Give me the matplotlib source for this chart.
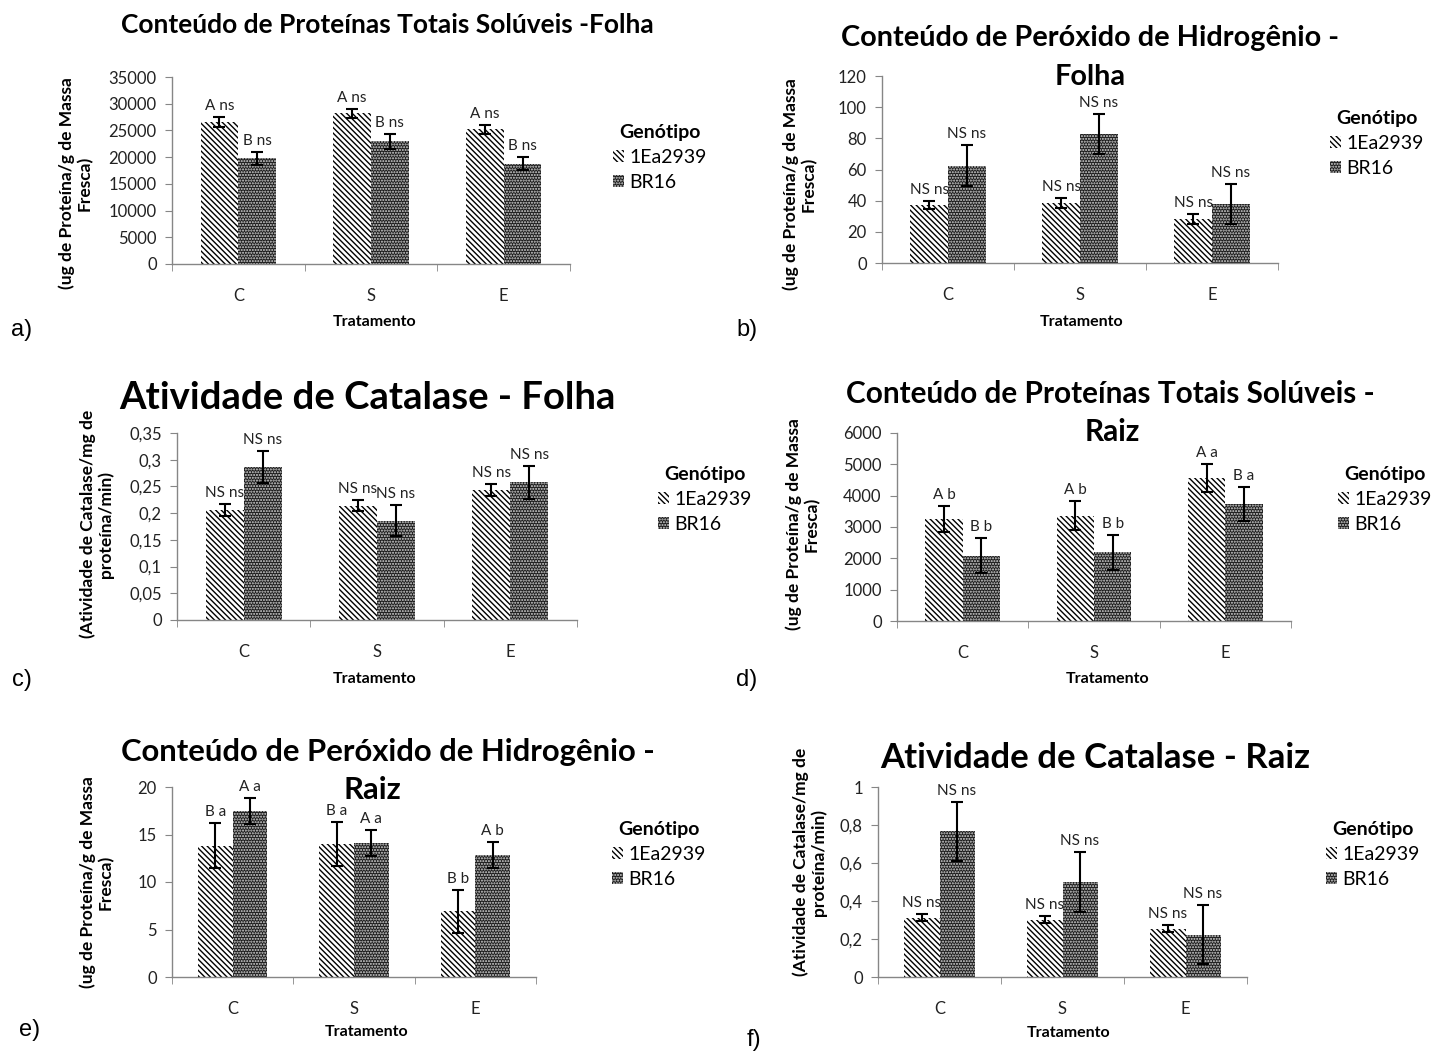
import matplotlib
matplotlib.use('Agg')
import matplotlib.pyplot as plt
from matplotlib.patches import Patch
import numpy as np

plt.rcParams['font.family'] = ['Lato', 'DejaVu Sans']
plt.rcParams['hatch.linewidth'] = 1.0

W, H = 1432, 1055

tratamentos = ['C', 'S', 'E']
genotipos = ['1Ea2939', 'BR16']

# a) proteínas totais solúveis - folha
prot_folha_1ea = [26500, 28200, 25200]
prot_folha_1ea_err = [950, 800, 850]
prot_folha_br16 = [19800, 23000, 18800]
prot_folha_br16_err = [1250, 1400, 1250]
prot_folha_letras_1ea = ['A ns', 'A ns', 'A ns']
prot_folha_letras_br16 = ['B ns', 'B ns', 'B ns']

# b) peróxido de hidrogênio - folha
h2o2_folha_1ea = [37.0, 38.4, 28.3]
h2o2_folha_1ea_err = [2.6, 3.4, 3.0]
h2o2_folha_br16 = [62.5, 82.7, 37.9]
h2o2_folha_br16_err = [13.0, 13.0, 12.8]
h2o2_folha_letras_1ea = ['NS ns', 'NS ns', 'NS ns']
h2o2_folha_letras_br16 = ['NS ns', 'NS ns', 'NS ns']

# c) catalase - folha
cat_folha_1ea = [0.206, 0.214, 0.244]
cat_folha_1ea_err = [0.012, 0.010, 0.011]
cat_folha_br16 = [0.286, 0.186, 0.2575]
cat_folha_br16_err = [0.030, 0.029, 0.031]
cat_folha_letras_1ea = ['NS ns', 'NS ns', 'NS ns']
cat_folha_letras_br16 = ['NS ns', 'NS ns', 'NS ns']

# d) proteínas totais solúveis - raiz
prot_raiz_1ea = [3250, 3360, 4570]
prot_raiz_1ea_err = [410, 470, 440]
prot_raiz_br16 = [2090, 2200, 3740]
prot_raiz_br16_err = [550, 560, 540]
prot_raiz_letras_1ea = ['A b', 'A b', 'A a']
prot_raiz_letras_br16 = ['B b', 'B b', 'B a']

# e) peróxido de hidrogênio - raiz
h2o2_raiz_1ea = [13.8, 14.0, 6.9]
h2o2_raiz_1ea_err = [2.36, 2.34, 2.3]
h2o2_raiz_br16 = [17.45, 14.13, 12.83]
h2o2_raiz_br16_err = [1.36, 1.38, 1.38]
h2o2_raiz_letras_1ea = ['B a', 'B a', 'B b']
h2o2_raiz_letras_br16 = ['A a', 'A a', 'A b']

# f) catalase - raiz
cat_raiz_1ea = [0.313, 0.302, 0.255]
cat_raiz_1ea_err = [0.020, 0.017, 0.018]
cat_raiz_br16 = [0.767, 0.500, 0.223]
cat_raiz_br16_err = [0.155, 0.158, 0.156]
cat_raiz_letras_1ea = ['NS ns', 'NS ns', 'NS ns']
cat_raiz_letras_br16 = ['NS ns', 'NS ns', 'NS ns']

ylabel_prot = '(ug de Proteína/g de Massa\nFresca)'
ylabel_cat = '(Atividade de Catalase/mg de\nproteína/min)'

cinza = '#868686'
largura = 0.285

estilo_1ea = dict(facecolor='white', edgecolor='black', hatch='\\' * 6, linewidth=0)
estilo_br16 = dict(facecolor='#1c1c1c', edgecolor='#d8d8d8', hatch='.' * 6, linewidth=0)


def fx(x):
    return x / W


def fy(y):
    return 1 - y / H


def fmt_virgula(v):
    return ('%g' % v).replace('.', ',')


def painel(caixa, ymax, passo, v1, e1, v2, e2, l1, l2, titulo, ylabel,
           legenda, xlab, virgula=False):
    esq, dir_, topo, base = caixa
    ax = fig.add_axes([fx(esq), fy(base), (dir_ - esq) / W, (base - topo) / H])
    x = np.arange(len(tratamentos))

    ax.bar(x - largura / 2, v1, largura, **estilo_1ea)
    ax.bar(x + largura / 2, v2, largura, **estilo_br16)
    ax.errorbar(x - largura / 2, v1, yerr=e1, fmt='none', ecolor='black',
                elinewidth=1.5, capsize=4.5, capthick=1.5)
    ax.errorbar(x + largura / 2, v2, yerr=e2, fmt='none', ecolor='black',
                elinewidth=1.5, capsize=4.5, capthick=1.5)

    for xi, v, e, t in zip(x - largura / 2, v1, e1, l1):
        ax.annotate(t, (xi, v + e), xytext=(0, 11), textcoords='offset pixels',
                    ha='center', va='center', fontsize=11, color='#222222')
    for xi, v, e, t in zip(x + largura / 2, v2, e2, l2):
        ax.annotate(t, (xi, v + e), xytext=(0, 11), textcoords='offset pixels',
                    ha='center', va='center', fontsize=11, color='#222222')

    ax.set_xlim(-0.5, 2.5)
    ax.set_ylim(0, ymax)
    ticks = np.arange(0, ymax + passo / 2, passo)
    ax.set_yticks(ticks)
    if virgula:
        ax.set_yticklabels([fmt_virgula(round(t, 2)) for t in ticks])
    else:
        ax.set_yticklabels(['%d' % t for t in ticks])
    ax.set_xticks(x)
    ax.set_xticklabels(tratamentos)
    ax.set_xticks([-0.5, 0.5, 1.5, 2.5], minor=True)
    ax.tick_params(axis='x', which='major', length=0, pad=17, labelsize=12,
                   labelcolor='#222222')
    ax.tick_params(axis='x', which='minor', length=5, color=cinza, direction='out')
    ax.tick_params(axis='y', length=5, color=cinza, direction='out', pad=6,
                   labelsize=12, labelcolor='#222222')
    for lado in ['top', 'right']:
        ax.spines[lado].set_visible(False)
    for lado in ['left', 'bottom']:
        ax.spines[lado].set_color(cinza)
        ax.spines[lado].set_linewidth(1.0)

    # título (uma ou duas linhas)
    for texto, (cx, cy, tam) in titulo:
        fig.text(fx(cx), fy(cy), texto, ha='center', va='center',
                 fontsize=tam, fontweight='bold')

    yx, yy = ylabel[1]
    fig.text(fx(yx), fy(yy), ylabel[0], rotation=90, ha='center', va='center',
             fontsize=12.5, fontweight='bold', multialignment='center',
             linespacing=1.1)

    fig.text(fx(xlab[0]), fy(xlab[1]), 'Tratamento', ha='center', va='center',
             fontsize=11.5, fontweight='bold')

    lx, ly = legenda
    handles = [Patch(**estilo_1ea), Patch(**estilo_br16)]
    leg = ax.legend(handles, genotipos, title='Genótipo', loc='upper left',
                    bbox_to_anchor=(fx(lx), fy(ly)), bbox_transform=fig.transFigure,
                    frameon=False, fontsize=14, title_fontsize=14,
                    handlelength=0.55, handleheight=0.55, handletextpad=0.3,
                    labelspacing=0.4, borderpad=0, borderaxespad=0)
    leg.get_title().set_fontweight('bold')
    return ax


fig = plt.figure(figsize=(W / 100, H / 100), dpi=100)

painel((172, 570, 77, 264), 35000, 5000,
       prot_folha_1ea, prot_folha_1ea_err, prot_folha_br16, prot_folha_br16_err,
       prot_folha_letras_1ea, prot_folha_letras_br16,
       [('Conteúdo de Proteínas Totais Solúveis -Folha', (387, 25, 19))],
       (ylabel_prot, (76, 183)), (613, 124), (375, 322))

painel((882, 1278, 76, 263), 120, 20,
       h2o2_folha_1ea, h2o2_folha_1ea_err, h2o2_folha_br16, h2o2_folha_br16_err,
       h2o2_folha_letras_1ea, h2o2_folha_letras_br16,
       [('Conteúdo de Peróxido de Hidrogênio -', (1090, 38, 20.8)),
        ('Folha', (1090, 77, 20.8))],
       (ylabel_prot, (800, 184)), (1330, 110), (1082, 322))

painel((177, 577, 433, 620), 0.35, 0.05,
       cat_folha_1ea, cat_folha_1ea_err, cat_folha_br16, cat_folha_br16_err,
       cat_folha_letras_1ea, cat_folha_letras_br16,
       [('Atividade de Catalase - Folha', (367, 398, 27.5))],
       (ylabel_cat, (97, 524)), (658, 466), (375, 679), virgula=True)

painel((897, 1291, 433, 621), 6000, 1000,
       prot_raiz_1ea, prot_raiz_1ea_err, prot_raiz_br16, prot_raiz_br16_err,
       prot_raiz_letras_1ea, prot_raiz_letras_br16,
       [('Conteúdo de Proteínas Totais Solúveis -', (1110, 394, 21.4)),
        ('Raiz', (1112, 432, 21.4))],
       (ylabel_prot, (803, 524)), (1338, 466), (1108, 679))

painel((172, 536, 787, 977), 20, 5,
       h2o2_raiz_1ea, h2o2_raiz_1ea_err, h2o2_raiz_br16, h2o2_raiz_br16_err,
       h2o2_raiz_letras_1ea, h2o2_raiz_letras_br16,
       [('Conteúdo de Peróxido de Hidrogênio -', (388, 752, 22.3)),
        ('Raiz', (372, 790, 22.3))],
       (ylabel_prot, (97, 882)), (612, 821), (367, 1032))

painel((878, 1247, 787, 977), 1.0, 0.2,
       cat_raiz_1ea, cat_raiz_1ea_err, cat_raiz_br16, cat_raiz_br16_err,
       cat_raiz_letras_1ea, cat_raiz_letras_br16,
       [('Atividade de Catalase - Raiz', (1095, 758, 25))],
       (ylabel_cat, (810, 862)), (1326, 821), (1069, 1033), virgula=True)

for letra, (px, py) in zip(['a)', 'b)', 'c)', 'd)', 'e)', 'f)'],
                           [(22, 330), (747, 330), (22, 680), (747, 680),
                            (30, 1030), (754, 1040)]):
    fig.text(fx(px), fy(py), letra, ha='center', va='center', fontsize=17,
             family='Liberation Sans')

fig.savefig('out.png', dpi=100)
